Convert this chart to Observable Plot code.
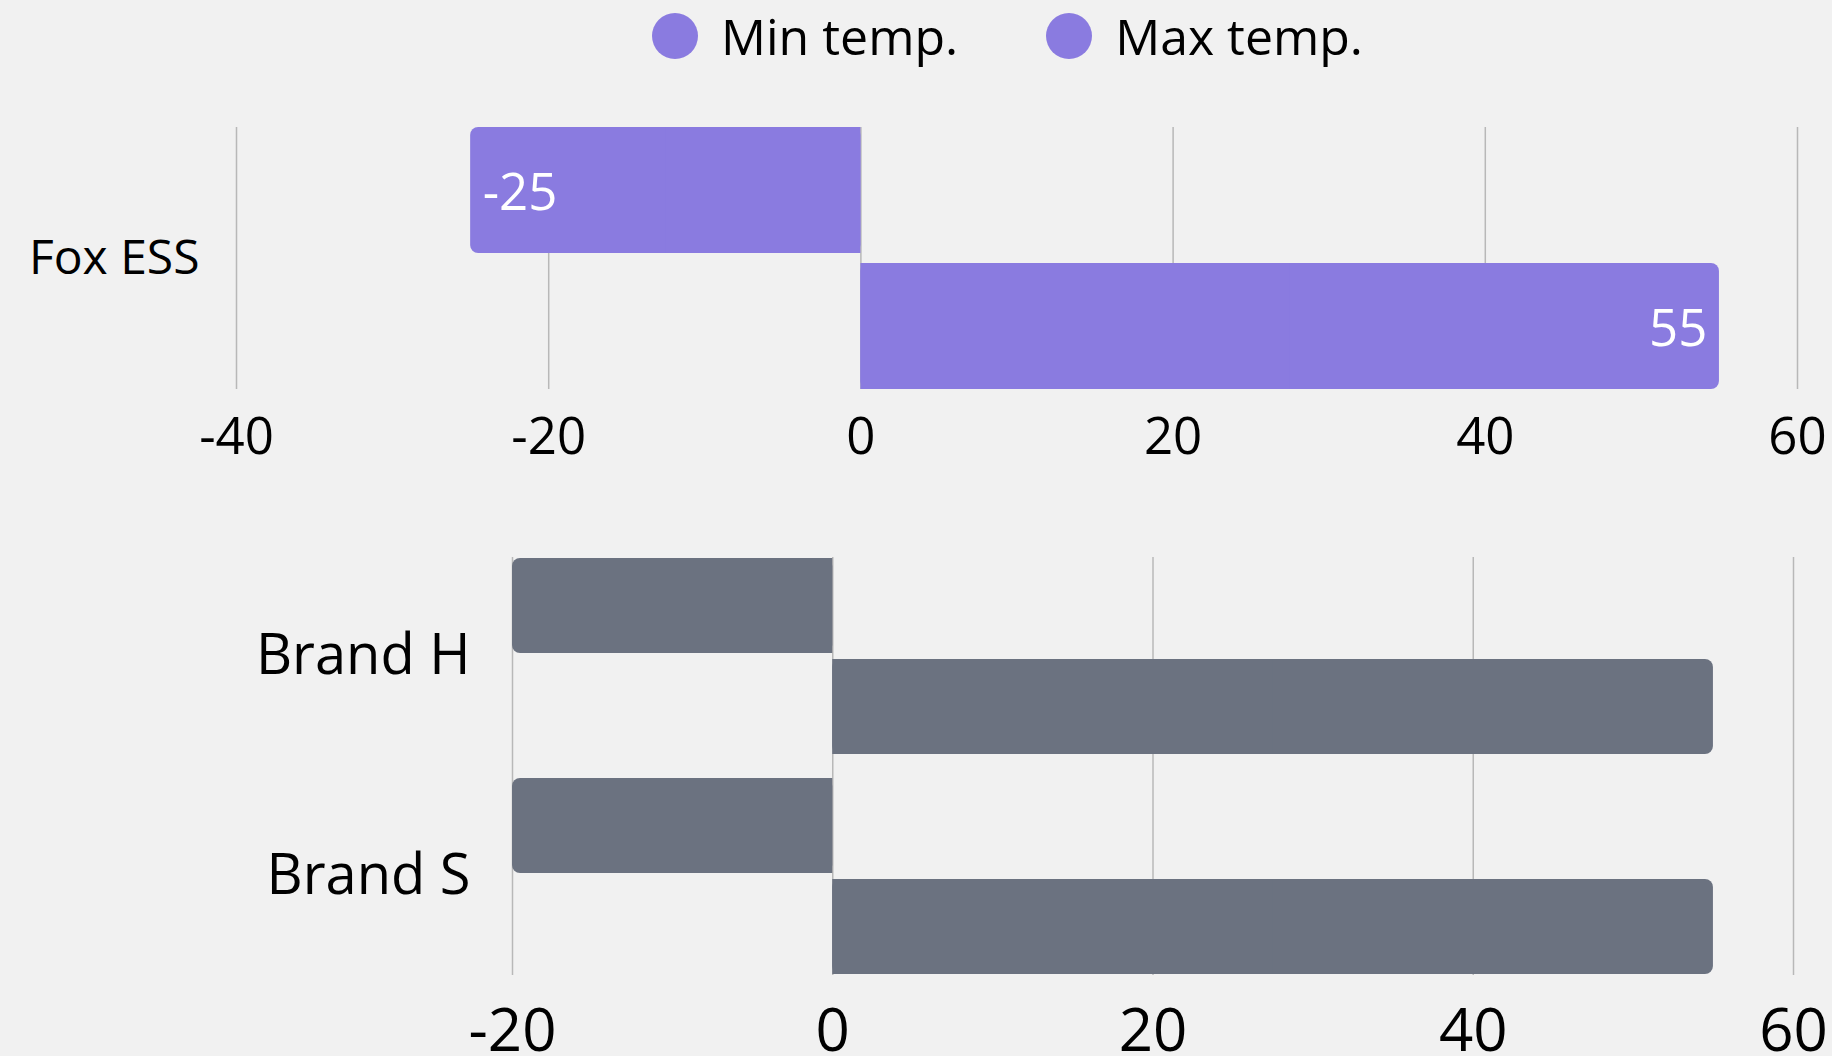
<!DOCTYPE html>
<html>
<head>
<meta charset="utf-8">
<script src="https://cdn.jsdelivr.net/npm/d3@7"></script>
<script src="https://cdn.jsdelivr.net/npm/@observablehq/plot@0.6"></script>
<style>
  html, body { margin: 0; padding: 0; background: #f1f1f1; }
  body { width: 1832px; height: 1056px; position: relative; overflow: hidden; font-family: "Open Sans", "Noto Sans", sans-serif; }
  #legend { position: absolute; left: 652px; top: 13px; display: flex; align-items: center; gap: 88px; }
  .item { display: flex; align-items: center; gap: 23px; font-size: 50px; color: #000; line-height: 46px; }
  .dot { width: 46px; height: 46px; border-radius: 50%; }
  #top { position: absolute; left: 0; top: 80px; }
  #bottom { position: absolute; left: 0; top: 469px; }
  svg { overflow: visible; }
</style>
</head>
<body>
<div id="legend"></div>
<div id="top"></div>
<div id="bottom"></div>
<script>
// ---- data ----
const seriesNames = ["Min temp.", "Max temp."];
const topCategories = ["Fox ESS"];
const topMin = [-25];
const topMax = [55];
const topTicks = [-40, -20, 0, 20, 40, 60];
const bottomCategories = ["Brand H", "Brand S"];
const bottomMin = [-20, -20];
const bottomMax = [55, 55];
const bottomTicks = [-20, 0, 20, 40, 60];

// ---- styles ----
const purple = "#8a7be0";
const gray = "#6b7280";
const gridColor = "#b8b8b8";
const font = "'Open Sans', 'Noto Sans', sans-serif";

// legend
const legend = document.getElementById("legend");
seriesNames.forEach(name => {
  const it = document.createElement("div");
  it.className = "item";
  const dot = document.createElement("div");
  dot.className = "dot";
  dot.style.background = purple;
  const label = document.createElement("span");
  label.textContent = name;
  it.append(dot, label);
  legend.append(it);
});

function rows(cats, mins, maxs) {
  return cats.flatMap((c, i) => [
    {cat: c, series: seriesNames[0], value: mins[i]},
    {cat: c, series: seriesNames[1], value: maxs[i]}
  ]);
}
const topData = rows(topCategories, topMin, topMax);
const bottomData = rows(bottomCategories, bottomMin, bottomMax);
const fmt = d => String(d);

// ---- top chart ----
const topPlot = Plot.plot({
  width: 1832,
  height: 389,
  marginTop: 47,
  marginBottom: 80,
  marginLeft: 236,
  marginRight: 35,
  style: {background: "transparent", fontFamily: font, fontSize: "50px", color: "#000"},
  x: {domain: [-40, 60]},
  y: {domain: seriesNames, paddingInner: 10 / 136, paddingOuter: 0, axis: null},
  fy: {domain: topCategories, paddingInner: 0, paddingOuter: 0, label: null},
  marks: [
    Plot.gridX(topTicks, {stroke: gridColor, strokeOpacity: 1, strokeWidth: 1.5}),
    Plot.barX(topData, {x1: 0, x2: "value", y: "series", fy: "cat", fill: purple, rx: 8}),
    Plot.barX(topData, {x1: 0, x2: d => d.value / 2, y: "series", fy: "cat", fill: purple}),
    Plot.text(topData.filter(d => d.value < 0), {x: "value", y: "series", fy: "cat", text: d => fmt(d.value), textAnchor: "start", dx: 12, fill: "#fff", fontSize: 51, dy: 3}),
    Plot.text(topData.filter(d => d.value >= 0), {x: "value", y: "series", fy: "cat", text: d => fmt(d.value), textAnchor: "end", dx: -12, fill: "#fff", fontSize: 51, dy: 3}),
    Plot.axisX({ticks: topTicks, tickSize: 0, tickPadding: 28, fontSize: 51, tickFormat: fmt, label: null}),
    Plot.axisFy({anchor: "left", tickSize: 0, tickPadding: 37, fontSize: 48, label: null})
  ]
});
document.getElementById("top").append(topPlot);

// ---- bottom chart ----
const lastCat = bottomCategories[bottomCategories.length - 1];
const gridData = bottomCategories.flatMap(c => bottomTicks.map(t => ({cat: c, t})));
const bottomPlot = Plot.plot({
  width: 1832,
  height: 587,
  marginTop: 88,
  marginBottom: 80,
  marginLeft: 512,
  marginRight: 39,
  style: {background: "transparent", fontFamily: font, fontSize: "60px", color: "#000"},
  x: {domain: [-20, 60]},
  y: {domain: seriesNames, paddingInner: 6 / 102.25, paddingOuter: 0, axis: null},
  fy: {domain: bottomCategories, paddingInner: 22 / 220.5, paddingOuter: 0, label: null},
  marks: [
    Plot.ruleX(gridData.filter(d => d.cat !== lastCat), {x: "t", fy: "cat", stroke: gridColor, strokeWidth: 1.5, insetBottom: -22}),
    Plot.ruleX(gridData.filter(d => d.cat === lastCat), {x: "t", fy: "cat", stroke: gridColor, strokeWidth: 1.5}),
    Plot.barX(bottomData, {x1: 0, x2: "value", y: "series", fy: "cat", fill: gray, rx: 8}),
    Plot.barX(bottomData, {x1: 0, x2: d => d.value / 2, y: "series", fy: "cat", fill: gray}),
    Plot.axisX({ticks: bottomTicks, tickSize: 0, tickPadding: 33, fontSize: 60, tickFormat: fmt, label: null}),
    Plot.axisFy({anchor: "left", tickSize: 0, tickPadding: 42, fontSize: 56, label: null})
  ]
});
document.getElementById("bottom").append(bottomPlot);
</script>
</body>
</html>
